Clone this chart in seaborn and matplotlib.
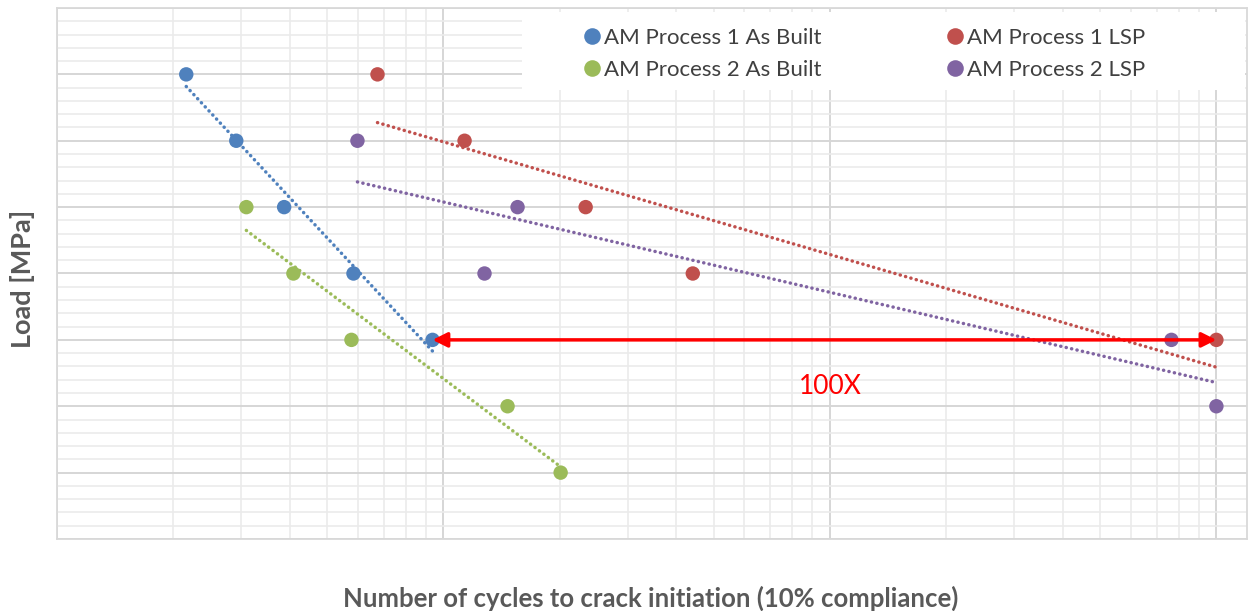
import numpy as np
import pandas as pd
import matplotlib
matplotlib.use("Agg")
import matplotlib.pyplot as plt
from matplotlib.ticker import MultipleLocator, LogLocator, NullFormatter
from matplotlib.patches import Rectangle
import seaborn as sns

# ---- data ----
series_names = ["AM Process 1 As Built", "AM Process 2 As Built",
                "AM Process 1 LSP", "AM Process 2 LSP"]
p1_built_cycles = [2160, 2910, 3870, 5850, 9370]
p1_built_load = [450, 400, 350, 300, 250]
p2_built_cycles = [3090, 4090, 5780, 14650, 20100]
p2_built_load = [350, 300, 250, 200, 150]
p1_lsp_cycles = [6750, 11340, 23330, 44170, 1.0e6]
p1_lsp_load = [450, 400, 350, 300, 250]
p2_lsp_cycles = [5990, 15550, 12770, 7.65e5, 1.0e6]
p2_lsp_load = [400, 350, 300, 250, 200]
colors = ["#4F81BD", "#9BBB59", "#C0504D", "#8064A2"]

arrow_from = (9370, 250)
arrow_to = (1.0e6, 250)
arrow_text = "100X"
arrow_text_pos = (1.0e5, 215)

xs = [p1_built_cycles, p2_built_cycles, p1_lsp_cycles, p2_lsp_cycles]
ys = [p1_built_load, p2_built_load, p1_lsp_load, p2_lsp_load]
df = pd.concat([pd.DataFrame({"cycles": x, "load": y, "series": n})
                for x, y, n in zip(xs, ys, series_names)], ignore_index=True)
palette = dict(zip(series_names, colors))

sns.set_theme(style="white")
plt.rcParams["font.family"] = ["Lato", "DejaVu Sans"]

fig = plt.figure(figsize=(12.57, 6.11), dpi=100)
ax = fig.add_axes([57 / 1257, 1 - 539 / 611, 1190 / 1257, 531 / 611])

ax.set_xscale("log")
ax.set_xlim(1e3, 1.2e6)
ax.set_ylim(100, 500)

# trendlines (logarithmic fit)
for n in series_names:
    sub = df[df.series == n]
    sns.regplot(data=sub, x="cycles", y="load", logx=True, ci=None, scatter=False,
                ax=ax, color=palette[n],
                line_kws=dict(linestyle=(0, (0.05, 1.55)), linewidth=2.5,
                              dash_capstyle="round", solid_capstyle="round",
                              zorder=2))

sns.scatterplot(data=df, x="cycles", y="load", hue="series", hue_order=series_names,
                palette=palette, s=108, edgecolor="none", linewidth=0, ax=ax,
                zorder=3)

# grid
ax.yaxis.set_major_locator(MultipleLocator(50))
ax.yaxis.set_minor_locator(MultipleLocator(10))
ax.xaxis.set_major_locator(LogLocator(base=10, numticks=20))
ax.xaxis.set_minor_locator(LogLocator(base=10, subs=np.arange(2, 10), numticks=40))
ax.xaxis.set_minor_formatter(NullFormatter())
ax.grid(which="major", color="#d6d6d6", linewidth=1.4, zorder=0)
ax.grid(which="minor", color="#ebebeb", linewidth=1.2, zorder=0)
ax.set_axisbelow(True)
ax.tick_params(which="both", length=0, labelbottom=False, labelleft=False)
for s in ax.spines.values():
    s.set_color("#d9d9d9")
    s.set_linewidth(1.3)

# arrow and annotation
ax.annotate("", xy=arrow_to, xytext=arrow_from,
            arrowprops=dict(arrowstyle="<|-|>", color="#FF0000", lw=2.5,
                            mutation_scale=22, shrinkA=0, shrinkB=0),
            zorder=5)
ax.text(*arrow_text_pos, arrow_text, color="#FF0000", fontsize=19,
        ha="center", va="center", zorder=5)

# labels
ax.set_xlabel("Number of cycles to crack initiation (10% compliance)",
              fontsize=18.5, fontweight="bold", color="#595959")
ax.xaxis.set_label_coords(0.499, -0.111)
ax.xaxis.label.set_va("center")
ax.set_ylabel("Load [MPa]", fontsize=19.5, fontweight="bold", color="#595959")
ax.yaxis.set_label_coords(-0.029, 0.49)
ax.yaxis.label.set_va("center")

# legend background (white plate as in the original)
ax.add_patch(Rectangle(((522 - 57) / 1190, (539 - 90) / 531), (1245 - 522) / 1190,
                       (90 - 12) / 531, transform=ax.transAxes, facecolor="white",
                       edgecolor="none", zorder=1.5))

handles, labels = ax.get_legend_handles_labels()
leg = ax.legend(handles, labels, ncol=2, loc="upper left",
                bbox_to_anchor=((583 - 57) / 1190, (539 - 28) / 531),
                frameon=False, fontsize=16, borderpad=0, borderaxespad=0,
                handletextpad=0.15, columnspacing=5.6, handlelength=0.8,
                labelspacing=0.52, markerscale=1.15)
for t in leg.get_texts():
    t.set_color("#404040")

fig.savefig("out.png", dpi=100, facecolor="white")
